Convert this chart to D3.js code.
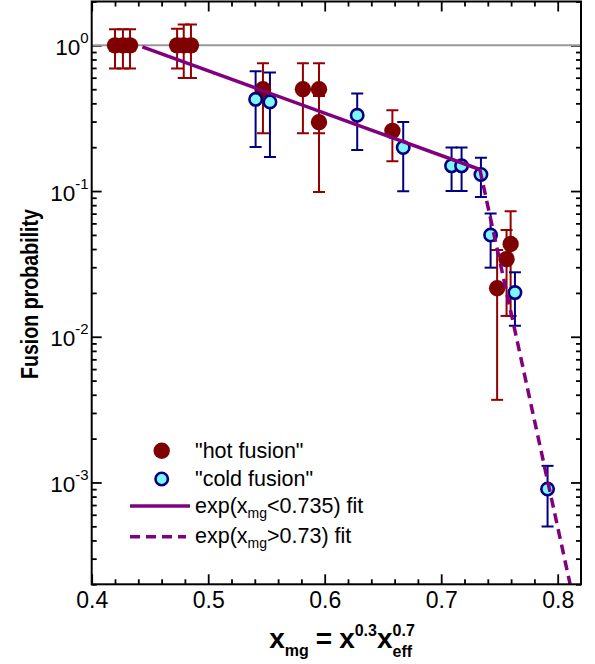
<!DOCTYPE html>
<html><head><meta charset="utf-8">
<script src="https://cdn.jsdelivr.net/npm/d3@7"></script>
<style>body{margin:0;background:#fff}text{font-family:"Liberation Sans",Arial,Helvetica,sans-serif}</style>
</head><body>
<script>
// ---------- data ----------
const hotX  = [0.420, 0.4268, 0.4329, 0.4733, 0.479, 0.4852, 0.547, 0.5813, 0.5951, 0.5951, 0.6581, 0.7480, 0.7561, 0.7596];
const hotY  = [1, 1, 1, 1, 1, 1, 0.50, 0.50, 0.50, 0.297, 0.259, 0.0215, 0.0341, 0.0433];
const hotHi = [1.29, 1.29, 1.29, 1.30, 1.39, 1.39, 0.753, 0.753, 0.753, 0.45, 0.358, 0.0394, 0.054, 0.0728];
const hotLo = [0.695, 0.695, 0.695, 0.695, 0.597, 0.597, 0.249, 0.249, 0.249, 0.0987, 0.160, 0.00369, 0.0139, 0.0139];

const coldX  = [0.5407, 0.553, 0.6279, 0.6674, 0.7089, 0.7175, 0.7341, 0.7424, 0.7633, 0.7913];
const coldY  = [0.426, 0.409, 0.331, 0.199, 0.149, 0.149, 0.130, 0.0499, 0.0201, 0.000901];
const coldHi = [0.663, 0.650, 0.467, 0.298, 0.199, 0.199, 0.169, 0.0702, 0.0277, 0.0013];
const coldLo = [0.201, 0.171, 0.191, 0.0998, 0.1, 0.1, 0.0912, 0.0298, 0.0119, 0.000499];

const fitLowX = [0.4435, 0.7332];
const fitLowY = [0.975, 0.1406];
const fitHighX = [0.7332, 0.8106];
const fitHighY = [0.1406, 0.000201];

const xTicks = [0.4, 0.5, 0.6, 0.7, 0.8];
const yTickExp = [0, -1, -2, -3];

// ---------- layout ----------
const W = 595, H = 664;
const L = 91.7, R = 581, T = 1.5, B = 584.3;
const svg = d3.select("body").append("svg").attr("width", W).attr("height", H);

const x = d3.scaleLinear().domain([0.4, 0.82]).range([L, R]);
const y = d3.scaleLog().domain([2e-4, 2]).range([B, T]);

svg.append("defs").append("clipPath").attr("id", "clip")
  .append("rect").attr("x", L).attr("y", T).attr("width", R - L).attr("height", B - T);

const xMinor = d3.range(0, 21).map(i => +(0.4 + i * 0.02).toFixed(2)).filter(v => v <= 0.82 && !xTicks.includes(v));
const yMajor = yTickExp.map(e => Math.pow(10, e));
const yMinor = [];
for (let e = -4; e <= 0; e++) for (let k = 2; k <= 9; k++) {
  const v = k * Math.pow(10, e);
  if (v >= 2e-4 && v <= 2) yMinor.push(v);
}

function styleAxis(g) {
  g.select(".domain").remove();
  g.selectAll(".tick line").attr("stroke", "#000").attr("stroke-width", 1.8);
}

// bottom
svg.append("g").attr("transform", `translate(0,${B})`)
  .call(d3.axisBottom(x).tickValues(xTicks).tickSize(-10).tickPadding(7).tickFormat(d3.format(".1f")))
  .call(styleAxis)
  .call(g => g.selectAll(".tick text").attr("font-size", 23).attr("fill", "#000").attr("dy", "0.72em").attr("y", 7));
svg.append("g").attr("transform", `translate(0,${B})`)
  .call(d3.axisBottom(x).tickValues(xMinor).tickSize(-5).tickFormat(""))
  .call(styleAxis);
// top
svg.append("g").attr("transform", `translate(0,${T})`)
  .call(d3.axisTop(x).tickValues(xTicks).tickSize(-10).tickFormat(""))
  .call(styleAxis);
svg.append("g").attr("transform", `translate(0,${T})`)
  .call(d3.axisTop(x).tickValues(xMinor).tickSize(-5).tickFormat(""))
  .call(styleAxis);
// left
const yl = svg.append("g").attr("transform", `translate(${L},0)`)
  .call(d3.axisLeft(y).tickValues(yMajor).tickSize(-10).tickFormat(""))
  .call(styleAxis);
yl.selectAll(".tick text").remove();
yl.selectAll(".tick").each(function (d) {
  const e = Math.round(Math.log10(d));
  const t = d3.select(this).append("text")
    .attr("x", -3).attr("y", 9).attr("text-anchor", "end").attr("fill", "#000").attr("font-size", 22.5);
  t.append("tspan").text("10");
  t.append("tspan").attr("font-size", 15).attr("dy", -12).text(String(e));
});
svg.append("g").attr("transform", `translate(${L},0)`)
  .call(d3.axisLeft(y).tickValues(yMinor).tickSize(-5).tickFormat(""))
  .call(styleAxis);
// right
svg.append("g").attr("transform", `translate(${R},0)`)
  .call(d3.axisRight(y).tickValues(yMajor).tickSize(-10).tickFormat(""))
  .call(styleAxis);
svg.append("g").attr("transform", `translate(${R},0)`)
  .call(d3.axisRight(y).tickValues(yMinor).tickSize(-5).tickFormat(""))
  .call(styleAxis);

const plot = svg.append("g").attr("clip-path", "url(#clip)");

plot.append("line").attr("x1", L).attr("x2", R).attr("y1", y(1)).attr("y2", y(1))
  .attr("stroke", "#999").attr("stroke-width", 2);

function errorBars(xs, hi, lo, color) {
  const g = plot.append("g").attr("stroke", color).attr("stroke-width", 2).attr("fill", "none");
  xs.forEach((xv, i) => {
    const cx = x(xv);
    g.append("line").attr("x1", cx).attr("x2", cx).attr("y1", y(hi[i])).attr("y2", y(lo[i]));
    g.append("line").attr("x1", cx - 6).attr("x2", cx + 6).attr("y1", y(hi[i])).attr("y2", y(hi[i]));
    g.append("line").attr("x1", cx - 6).attr("x2", cx + 6).attr("y1", y(lo[i])).attr("y2", y(lo[i]));
  });
}
errorBars(hotX, hotHi, hotLo, "#930000");
errorBars(coldX, coldHi, coldLo, "#000080");

plot.append("g").selectAll("circle").data(hotX).join("circle")
  .attr("cx", d => x(d)).attr("cy", (d, i) => y(hotY[i])).attr("r", 8.2).attr("fill", "#7f0000");
plot.append("g").selectAll("circle").data(coldX).join("circle")
  .attr("cx", d => x(d)).attr("cy", (d, i) => y(coldY[i])).attr("r", 6.2)
  .attr("fill", "#7ff7ff").attr("stroke", "#000080").attr("stroke-width", 2.6);

const line = d3.line().x(d => x(d[0])).y(d => y(d[1]));
plot.append("path").attr("d", line(fitLowX.map((v, i) => [v, fitLowY[i]])))
  .attr("fill", "none").attr("stroke", "#800080").attr("stroke-width", 3.5);
plot.append("path").attr("d", line(fitHighX.map((v, i) => [v, fitHighY[i]])))
  .attr("fill", "none").attr("stroke", "#800080").attr("stroke-width", 3.5).attr("stroke-dasharray", "10,6");

svg.append("rect").attr("x", L).attr("y", T).attr("width", R - L).attr("height", B - T)
  .attr("fill", "none").attr("stroke", "#000").attr("stroke-width", 2);

// legend
const lg = svg.append("g");
lg.append("circle").attr("cx", 161.7).attr("cy", 450.7).attr("r", 8.2).attr("fill", "#7f0000");
lg.append("circle").attr("cx", 161.7).attr("cy", 479).attr("r", 6.2).attr("fill", "#7ff7ff").attr("stroke", "#000080").attr("stroke-width", 2.6);
lg.append("line").attr("x1", 130).attr("x2", 190).attr("y1", 506).attr("y2", 506).attr("stroke", "#800080").attr("stroke-width", 3.5);
lg.append("line").attr("x1", 130).attr("x2", 186).attr("y1", 536.7).attr("y2", 536.7).attr("stroke", "#800080").attr("stroke-width", 3.5).attr("stroke-dasharray", "10,6");
const lfs = 21.5;
lg.append("text").attr("x", 195).attr("y", 458).attr("font-size", lfs).text('"hot fusion"');
lg.append("text").attr("x", 195).attr("y", 486).attr("font-size", lfs).text('"cold fusion"');
function fitLabel(yb, op, val) {
  const t = lg.append("text").attr("x", 195).attr("y", yb).attr("font-size", lfs);
  t.append("tspan").text("exp(x");
  t.append("tspan").attr("font-size", 14).attr("dy", 5).text("mg");
  t.append("tspan").attr("dy", -5).text(op + val + ") fit");
}
fitLabel(513, "<", "0.735");
fitLabel(543, ">", "0.73");

// y title
svg.append("text").attr("transform", "translate(38,294) rotate(-90)")
  .attr("text-anchor", "middle").attr("font-size", 23).attr("font-weight", "bold")
  .attr("textLength", 170).attr("lengthAdjust", "spacingAndGlyphs").text("Fusion probability");

// x title built from separate pieces
const xg = svg.append("g");
let cx = 0;
const base = 648;
function piece(txt, size, dy, advance = true, atX = null) {
  const t = xg.append("text").attr("x", atX === null ? cx : atX).attr("y", base + dy)
    .attr("font-size", size).attr("font-weight", "bold").text(txt);
  const w = t.node().getComputedTextLength();
  if (advance) cx += w;
  return w;
}
piece("x", 28, 0);
piece("mg", 16, 8);
cx += 7;
piece("=", 28, 0);
cx += 7;
piece("x", 28, 0);
piece("0.3", 16, -12);
piece("x", 28, 0);
const effStart = cx;
const wEff = piece("eff", 16, 9, false, effStart);
const wSup = piece("0.7", 16, -12, false, effStart);
cx += Math.max(wEff, wSup);
xg.attr("transform", `translate(${342 - cx / 2},0)`);
</script>
</body></html>
